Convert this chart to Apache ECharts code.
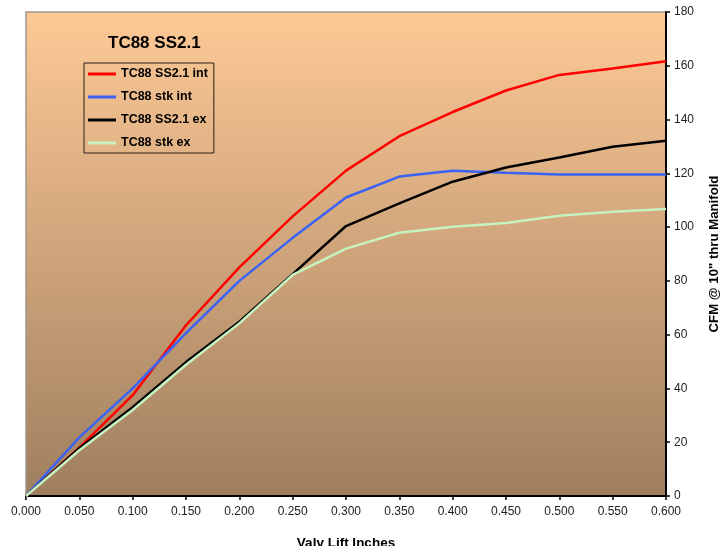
<!DOCTYPE html>
<html>
<head>
<meta charset="utf-8">
<script src="https://cdn.jsdelivr.net/npm/echarts@6/dist/echarts.min.js"></script>
<style>
html,body{margin:0;padding:0;background:#fff;}
#c{width:725px;height:546px;}
</style>
</head>
<body>
<div id="c"></div>
<script>
const lift = [0.000, 0.050, 0.100, 0.150, 0.200, 0.250, 0.300, 0.350, 0.400, 0.450, 0.500, 0.550, 0.600];
const ss21Int = [0, 18, 37.5, 63.5, 85, 104, 121, 133.8, 142.8, 150.8, 156.6, 159, 161.7];
const stkInt  = [0, 21.8, 40, 60.6, 80, 96, 111, 118.8, 121, 120.2, 119.6, 119.6, 119.6];
const ss21Ex  = [0, 17.8, 33, 49.8, 64.8, 82.5, 100.4, 108.8, 116.9, 122.2, 125.9, 129.9, 132.1];
const stkEx   = [0, 17, 32, 48.8, 64.2, 82.2, 92, 97.9, 100.1, 101.5, 104.2, 105.7, 106.7];
const seriesNames = ['TC88 SS2.1 int', 'TC88 stk int', 'TC88 SS2.1 ex', 'TC88 stk ex'];
const seriesColors = ['#FF0000', '#3A63F5', '#000000', '#C6F2C0'];
const seriesData = [ss21Int, stkInt, ss21Ex, stkEx];

const chart = echarts.init(document.getElementById('c'), null, {renderer: 'canvas'});
const font = 'Liberation Sans, Arial, sans-serif';
chart.setOption({
  backgroundColor: '#ffffff',
  animation: false,
  title: {
    text: 'TC88 SS2.1',
    left: 103, top: 30,
    textStyle: {fontFamily: font, fontSize: 17, fontWeight: 'bold', color: '#000'}
  },
  legend: {
    orient: 'vertical',
    left: 84, top: 63,
    padding: [4, 6, 3, 4],
    itemGap: 9,
    itemWidth: 28, itemHeight: 3,
    icon: 'rect',
    borderColor: '#2a2018', borderWidth: 1,
    backgroundColor: 'transparent',
    textStyle: {fontFamily: font, fontSize: 12.5, fontWeight: 'bold', color: '#000', lineHeight: 14},
    data: seriesNames
  },
  grid: {
    left: 26, right: 59, top: 12, bottom: 50,
    containLabel: false,
    outerBoundsMode: 'none',
    show: true,
    borderColor: '#A0968C', borderWidth: 1.5,
    backgroundColor: new echarts.graphic.LinearGradient(0, 0, 0, 1, [
      {offset: 0, color: '#FEC996'},
      {offset: 1, color: '#9F7F5F'}
    ])
  },
  xAxis: {
    type: 'value',
    min: 0, max: 0.6, interval: 0.05,
    name: 'Valv Lift Inches',
    nameLocation: 'middle',
    nameGap: 40,
    nameTextStyle: {fontFamily: font, fontSize: 13.5, fontWeight: 'bold', color: '#000'},
    axisLine: {show: true, onZero: false, lineStyle: {color: '#000', width: 2}},
    axisTick: {show: true, length: 4, lineStyle: {color: '#000', width: 1.5}},
    splitLine: {show: false},
    axisLabel: {fontFamily: font, fontSize: 12, color: '#222', margin: 10,
      formatter: v => v.toFixed(3)}
  },
  yAxis: {
    type: 'value',
    position: 'right',
    min: 0, max: 180, interval: 20,
    name: 'CFM @ 10" thru Manifold',
    nameLocation: 'middle',
    nameGap: 42,
    nameRotate: 90,
    nameTextStyle: {fontFamily: font, fontSize: 13.2, fontWeight: 'bold', color: '#000'},
    axisLine: {show: true, onZero: false, lineStyle: {color: '#000', width: 2}},
    axisTick: {show: true, length: 4, lineStyle: {color: '#000', width: 1.5}},
    splitLine: {show: false},
    axisLabel: {fontFamily: font, fontSize: 12, color: '#222', margin: 8}
  },
  series: seriesNames.map((n, i) => ({
    name: n,
    type: 'line',
    symbol: 'none',
    color: seriesColors[i],
    lineStyle: {width: 2.5, color: seriesColors[i]},
    data: lift.map((x, j) => [x, seriesData[i][j]])
  }))
});
</script>
</body>
</html>
